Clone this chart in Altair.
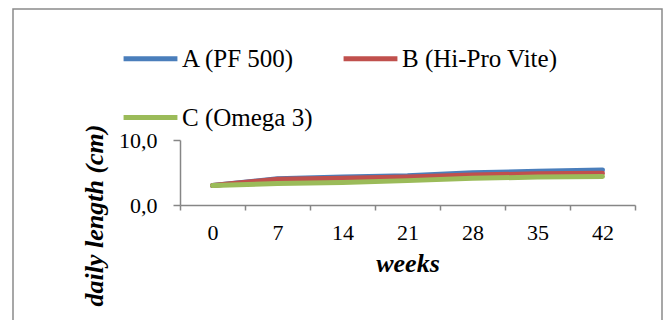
import altair as alt
import pandas as pd

weeks = ["0", "7", "14", "21", "28", "35", "42"]
series_names = ["A (PF 500)", "B (Hi-Pro Vite)", "C (Omega 3)"]
a_vals = [3.0, 4.05, 4.3, 4.5, 4.95, 5.2, 5.4]
b_vals = [3.0, 3.95, 4.1, 4.3, 4.6, 4.8, 4.9]
c_vals = [3.0, 3.3, 3.45, 3.75, 4.1, 4.3, 4.4]
colors = ["#4A7EBB", "#C0504D", "#9BBB59"]

rows = []
for k, (name, vals) in enumerate(zip(series_names, [a_vals, b_vals, c_vals])):
    for w, v in zip(weeks, vals):
        rows.append({"week": w, "value": v, "series": name, "order": k})
df = pd.DataFrame(rows)

FONT = "Liberation Serif"
GREY = "#868686"

lines = alt.Chart(df).mark_line(strokeWidth=5, strokeCap="round", strokeJoin="round").encode(
    x=alt.X("week:N", sort=weeks, bandPosition=0.5,
            scale=alt.Scale(type="band", paddingInner=0, paddingOuter=0),
            axis=alt.Axis(title="weeks", labelAngle=0, tickBand="extent", tickSize=5,
                          labelPadding=12, titleY=58, titleBaseline="middle",
                          titleFontStyle="italic", titleFontWeight="bold", titleFontSize=26)),
    y=alt.Y("value:Q", scale=alt.Scale(domain=[0, 10], nice=False),
            axis=alt.Axis(title="daily length (cm)", values=[0, 10], tickSize=7, labelPadding=16,
                          labelExpr="replace(format(datum.value, '.1f'), '.', ',')",
                          titleX=-86, titleY=75, titleAngle=270, titleBaseline="middle",
                          titleAlign="center", titleFontStyle="italic", titleFontWeight="bold",
                          titleFontSize=26, grid=False)),
    color=alt.Color("series:N", sort=series_names,
                    scale=alt.Scale(domain=series_names, range=colors),
                    legend=alt.Legend(title=None, orient="none", legendX=-59, legendY=-111,
                                      direction="horizontal", columns=2,
                                      symbolType="stroke", symbolSize=2900,
                                      symbolStrokeWidth=5, labelOffset=2, rowPadding=16,
                                      columnPadding=20, labelFont=FONT, labelFontSize=25,
                                      labelColor="#000000", labelLimit=400)),
    detail="series:N",
    order="order:Q",
)

frame = alt.Chart(pd.DataFrame({"k": [0]})).mark_rect(fill=None, stroke="#8a8a8a", strokeWidth=1.5).encode(
    x=alt.value(-167), x2=alt.value(482), y=alt.value(-131), y2=alt.value(200)
)

chart = alt.layer(frame, lines).properties(
    width=455, height=65,
    autosize=alt.AutoSizeParams(type="none"),
    padding={"left": 180, "top": 140, "right": 33, "bottom": 115},
    background="white",
).configure(font=FONT).configure_view(stroke=None).configure_axis(
    labelFont=FONT, titleFont=FONT, labelFontSize=22,
    labelColor="#000000", titleColor="#000000", domainColor=GREY, tickColor=GREY,
    domainWidth=1.5, tickWidth=1.5,
).configure_legend(
    labelFont=FONT, labelFontSize=25, labelColor="#000000", labelLimit=400,
)

chart.save("out.html", embed_options={"renderer": "svg", "actions": False})
